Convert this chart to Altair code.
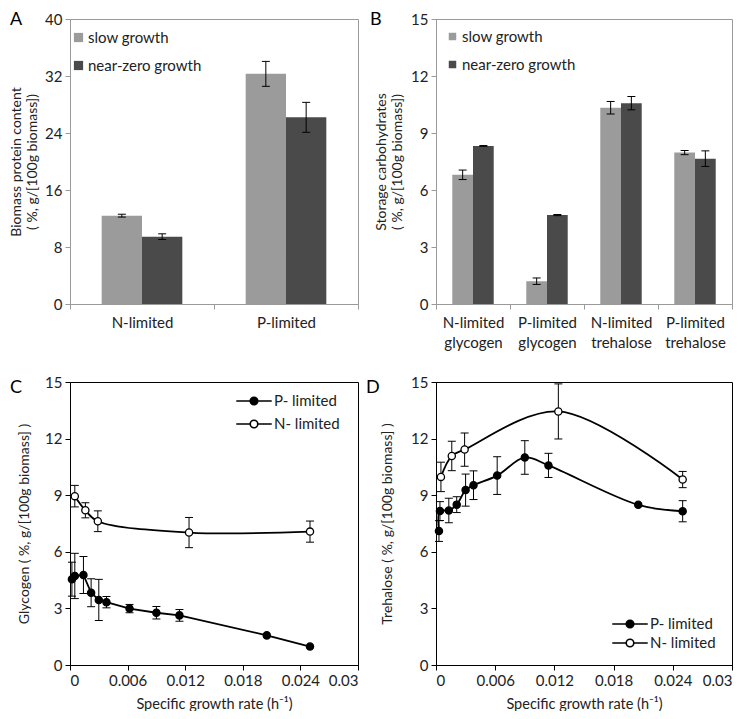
import altair as alt
import pandas as pd

FONT = "Lato"
LIGHT = "#9b9b9b"
DARK = "#4a4a4a"
FRAME_GRAY = "#9a9a9a"
TEXT = "#222222"

growth_order = ["slow growth", "near-zero growth"]
series_order = ["P- limited", "N- limited"]

# ---------------- Panel A: biomass protein content ----------------
a_categories = ["N-limited", "P-limited"]
a_slow = [12.4, 32.3]
a_slow_err = [0.2, 1.75]
a_near = [9.45, 26.2]
a_near_err = [0.4, 2.1]

# ---------------- Panel B: storage carbohydrates ----------------
b_categories = ["N-limited glycogen", "P-limited glycogen",
                "N-limited trehalose", "P-limited trehalose"]
b_slow = [6.8, 1.2, 10.33, 7.97]
b_slow_err = [0.25, 0.17, 0.33, 0.11]
b_near = [8.32, 4.68, 10.57, 7.65]
b_near_err = [0.02, 0.03, 0.35, 0.41]

# ---------------- Panel C: glycogen vs growth rate ----------------
c_p_x = [0.0002, 0.0005, 0.0014, 0.0022, 0.003, 0.0038, 0.0062, 0.009, 0.0114, 0.0205, 0.025]
c_p_y = [4.55, 4.72, 4.77, 3.83, 3.45, 3.33, 2.99, 2.77, 2.63, 1.57, 0.98]
c_p_err = [0.9, 1.2, 0.98, 0.74, 1.09, 0.3, 0.22, 0.33, 0.31, 0.0, 0.0]
c_n_x = [0.0005, 0.0016, 0.0029, 0.0124, 0.025]
c_n_y = [8.95, 8.2, 7.62, 7.02, 7.07]
c_n_err = [0.57, 0.4, 0.55, 0.8, 0.56]

# ---------------- Panel D: trehalose vs growth rate ----------------
d_p_x = [0.0003, 0.0004, 0.0013, 0.0021, 0.003, 0.0038, 0.0062, 0.009, 0.0114, 0.0205, 0.025]
d_p_y = [7.1, 8.16, 8.19, 8.5, 9.27, 9.53, 10.04, 11.0, 10.58, 8.49, 8.15]
d_p_err = [0.55, 0.5, 0.65, 0.42, 0.85, 0.76, 1.0, 0.89, 0.64, 0.0, 0.56]
d_n_x = [0.0005, 0.0016, 0.0029, 0.0124, 0.025]
d_n_y = [9.97, 11.08, 11.42, 13.44, 9.83]
d_n_err = [0.78, 0.78, 0.88, 1.46, 0.43]

rate_ticks = [0, 0.006, 0.012, 0.018, 0.024, 0.03]
rate_title = "Specific growth rate (h\u207b\u00b9)"


def bar_frame(cats, slow, slow_err, near, near_err):
    rows = []
    for c, v, e in zip(cats, slow, slow_err):
        rows.append({"cat": c, "growth": "slow growth", "v": v, "lo": v - e, "hi": v + e})
    for c, v, e in zip(cats, near, near_err):
        rows.append({"cat": c, "growth": "near-zero growth", "v": v, "lo": v - e, "hi": v + e})
    return pd.DataFrame(rows)


def letter_layer(letter, lx, ly):
    return alt.Chart(pd.DataFrame({"letter": [letter]})).mark_text(
        align="left", baseline="middle", fontSize=18, font=FONT, color="black"
    ).encode(text="letter:N", x=alt.value(lx), y=alt.value(ly))


def bar_panel(df, cats, ymax, ystep, ytitle, w, h, letter, lx, title_pad,
              leg_x, leg_y, sym_size, row_pad):
    ys = alt.Scale(domain=[0, ymax], nice=False)
    yaxis = alt.Axis(values=list(range(0, ymax + 1, ystep)), grid=False, tickSize=5,
                     labelPadding=3, titlePadding=title_pad, domainColor=FRAME_GRAY,
                     tickColor=FRAME_GRAY, titleLineHeight=16)
    xaxis = alt.Axis(title=None, labelAngle=0, tickBand="extent", tickSize=5,
                     labelPadding=6, domainColor=FRAME_GRAY, tickColor=FRAME_GRAY,
                     labelExpr="split(datum.label, ' ')", labelLineHeight=20,
                     labelFontSize=15)
    xenc = alt.X("cat:N", sort=cats, scale=alt.Scale(paddingInner=0, paddingOuter=0),
                 axis=xaxis, title=None)
    xoff = alt.XOffset("growth:N", sort=growth_order,
                       scale=alt.Scale(domain=growth_order, paddingInner=0, paddingOuter=0.786))
    base = alt.Chart(df)
    bars = base.mark_bar().encode(
        x=xenc, xOffset=xoff,
        y=alt.Y("v:Q", scale=ys, axis=yaxis, title=ytitle),
        color=alt.Color("growth:N",
                        scale=alt.Scale(domain=growth_order, range=[LIGHT, DARK]),
                        legend=alt.Legend(title=None, orient="none", legendX=leg_x, legendY=leg_y,
                                          symbolType="square", symbolSize=sym_size,
                                          symbolStrokeWidth=0, symbolOpacity=1,
                                          labelFontSize=15, rowPadding=row_pad, labelOffset=2)),
    )
    err = base.mark_rule(color="black", strokeWidth=1).encode(
        x=xenc, xOffset=xoff,
        y=alt.Y("lo:Q", scale=ys, axis=yaxis, title=ytitle), y2="hi:Q")
    cap_lo = base.mark_tick(orient="horizontal", size=8, thickness=1, color="black", opacity=1).encode(
        x=xenc, xOffset=xoff, y=alt.Y("lo:Q", scale=ys, axis=yaxis, title=ytitle))
    cap_hi = base.mark_tick(orient="horizontal", size=8, thickness=1, color="black", opacity=1).encode(
        x=xenc, xOffset=xoff, y=alt.Y("hi:Q", scale=ys, axis=yaxis, title=ytitle))
    return alt.layer(bars, err, cap_lo, cap_hi, letter_layer(letter, lx, 1)).properties(
        width=w, height=h, view=alt.ViewBackground(stroke=FRAME_GRAY, strokeWidth=1))


def line_frame(p_x, p_y, p_err, n_x, n_y, n_err):
    rows = []
    for x, y, e in zip(p_x, p_y, p_err):
        rows.append({"series": "P- limited", "x": x, "y": y, "err": e, "lo": y - e, "hi": y + e})
    for x, y, e in zip(n_x, n_y, n_err):
        rows.append({"series": "N- limited", "x": x, "y": y, "err": e, "lo": y - e, "hi": y + e})
    return pd.DataFrame(rows)


LEGEND_PATH = ("M -1.97 0 L -0.42 0 M 0.42 0 L 1.97 0 "
               "M -0.42 0 A 0.42 0.42 0 1 1 0.42 0 A 0.42 0.42 0 1 1 -0.42 0 Z")


def line_panel(df, ytitle, w, h, letter, lx, ly, title_pad, p_interp,
               leg_x, leg_y, row_pad):
    xs = alt.Scale(domain=[0, 0.03], nice=False)
    ys = alt.Scale(domain=[0, 15], nice=False)
    xaxis = alt.Axis(values=rate_ticks, format="~g", grid=False, tickSize=5, labelPadding=3,
                     titlePadding=9, domainColor="black", tickColor="black", titleFontSize=14.5)
    yaxis = alt.Axis(values=[0, 3, 6, 9, 12, 15], grid=False, tickSize=5, labelPadding=3,
                     titlePadding=title_pad, domainColor="black", tickColor="black")
    xenc = alt.X("x:Q", scale=xs, axis=xaxis, title=rate_title)
    base = alt.Chart(df)
    err_base = base.transform_filter(alt.datum.err > 0)
    err = err_base.mark_rule(color="black", strokeWidth=1).encode(
        x=xenc, y=alt.Y("lo:Q", scale=ys, axis=yaxis, title=ytitle), y2="hi:Q")
    cap_lo = err_base.mark_tick(orient="horizontal", size=8, thickness=1, color="black", opacity=1).encode(
        x=xenc, y=alt.Y("lo:Q", scale=ys, axis=yaxis, title=ytitle))
    cap_hi = err_base.mark_tick(orient="horizontal", size=8, thickness=1, color="black", opacity=1).encode(
        x=xenc, y=alt.Y("hi:Q", scale=ys, axis=yaxis, title=ytitle))
    line_p = base.transform_filter(alt.datum.series == "P- limited").mark_line(
        color="black", strokeWidth=1.8, interpolate=p_interp).encode(
        x=xenc, y=alt.Y("y:Q", scale=ys, axis=yaxis, title=ytitle))
    line_n = base.transform_filter(alt.datum.series == "N- limited").mark_line(
        color="black", strokeWidth=1.8, interpolate="catmull-rom").encode(
        x=xenc, y=alt.Y("y:Q", scale=ys, axis=yaxis, title=ytitle))
    pts = base.mark_circle(size=52, stroke="black", strokeWidth=1.3, opacity=1).encode(
        x=xenc, y=alt.Y("y:Q", scale=ys, axis=yaxis, title=ytitle),
        fill=alt.Fill("series:N", scale=alt.Scale(domain=series_order, range=["black", "white"]),
                      legend=alt.Legend(title=None, orient="none", legendX=leg_x, legendY=leg_y,
                                        symbolType=LEGEND_PATH, symbolSize=324,
                                        symbolStrokeColor="black", symbolStrokeWidth=1.6,
                                        symbolOpacity=1, labelFontSize=15, labelOffset=10,
                                        rowPadding=row_pad)),
    )
    return alt.layer(err, cap_lo, cap_hi, line_p, line_n, pts, letter_layer(letter, lx, ly)).properties(
        width=w, height=h, view=alt.ViewBackground(stroke="black", strokeWidth=1))


W1, W2 = 288, 296
H1, H2 = 285, 283

panel_a = bar_panel(bar_frame(a_categories, a_slow, a_slow_err, a_near, a_near_err),
                    a_categories, 40, 8, ["Biomass protein content", "( %, g/[100g biomass])"],
                    W1, H1, "A", -60, 5, 1, 11, 85, 12)
panel_b = bar_panel(bar_frame(b_categories, b_slow, b_slow_err, b_near, b_near_err),
                    b_categories, 15, 3, ["Storage carbohydrates", "( %, g/[100g biomass])"],
                    W2, H1, "B", -66, 6, 9, 10, 56, 12)
panel_c = line_panel(line_frame(c_p_x, c_p_y, c_p_err, c_n_x, c_n_y, c_n_err),
                     "Glycogen ( %, g/[100g biomass] )", W1, H2, "C", -60, 6, 13, "linear",
                     174, 9, 5)
panel_d = line_panel(line_frame(d_p_x, d_p_y, d_p_err, d_n_x, d_n_y, d_n_err),
                     "Trehalose ( %, g/[100g biomass] )", W2, H2, "D", -70, 6, 16, "catmull-rom",
                     184, 232, 1)

chart = alt.concat(
    panel_a, panel_b, panel_c, panel_d,
    columns=2, spacing={"row": 78, "column": 78}, bounds="flush", align="each",
    padding={"left": 1, "top": 2, "right": 0, "bottom": 0},
).resolve_scale(
    color="independent", fill="independent", xOffset="independent"
).resolve_legend(
    color="independent", fill="independent"
).configure(font=FONT).configure_axis(
    labelFont=FONT, titleFont=FONT, labelFontSize=15, titleFontSize=14,
    titleFontWeight="normal", labelColor=TEXT, titleColor=TEXT,
).configure_legend(labelFont=FONT, labelColor=TEXT)

chart.save("out.html", embed_options={"renderer": "svg", "actions": False})
